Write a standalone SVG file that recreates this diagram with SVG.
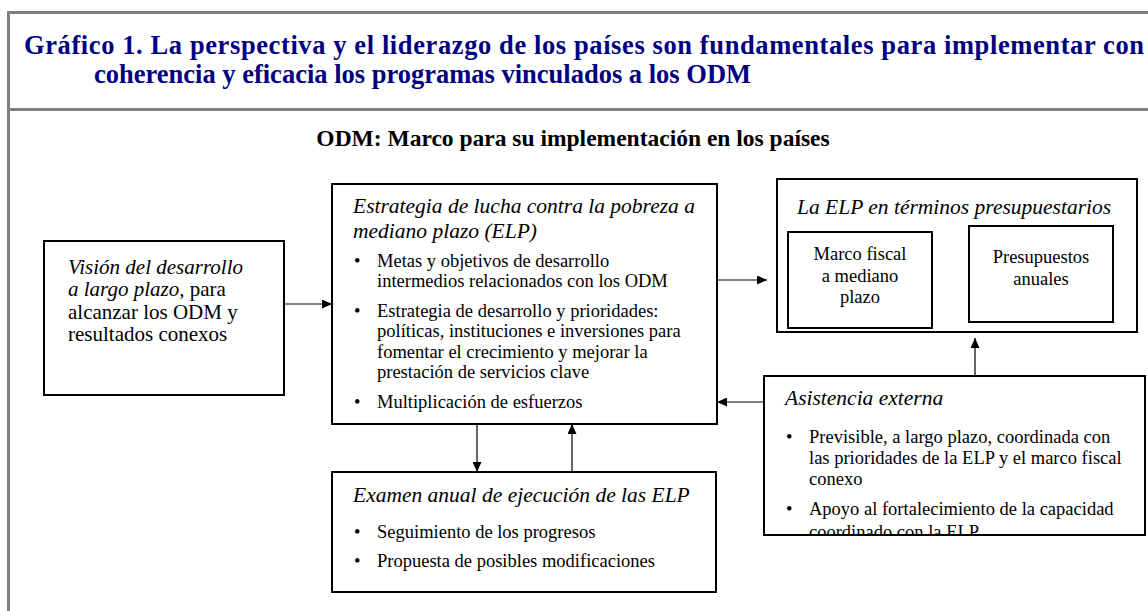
<svg xmlns="http://www.w3.org/2000/svg" width="1148" height="611" viewBox="0 0 1148 611">
<style>
.frame{stroke:#808080;stroke-width:3;fill:none}
.box{fill:#fff;stroke:#000;stroke-width:2}
.t{font-family:"Liberation Serif","Times New Roman",serif;fill:#000}
.h{font-size:26.5px;font-weight:bold;fill:#000080}
.sub{font-size:23.5px;font-weight:bold}
.it{font-size:21.5px;font-style:italic}
.b{font-size:18.5px}
.v{font-size:21px}
.c{text-anchor:middle}
.con{stroke:#000;stroke-width:1.2;fill:none;marker-end:url(#ah)}
</style>
<defs>
<marker id="ah" markerUnits="userSpaceOnUse" markerWidth="10" markerHeight="9" refX="10" refY="4.5" orient="auto">
<path d="M0,0 L10,4.5 L0,9 z" fill="#000"/>
</marker>
<clipPath id="clipA"><rect x="764" y="376" width="382" height="158"/></clipPath>
</defs>
<rect width="1148" height="611" fill="#fff"/>
<g id="frame">
<path class="frame" d="M8.5,611 V12.5 H1148 M8.5,109.5 H1148"/>
<text class="t h" x="24" y="54" textLength="1120" lengthAdjust="spacing">Gráfico 1. La perspectiva y el liderazgo de los países son fundamentales para implementar con</text>
<text class="t h" x="94" y="83">coherencia y eficacia los programas vinculados a los ODM</text>
<text class="t sub c" x="573" y="146">ODM: Marco para su implementación en los países</text>
</g>
<g id="connectors">
<line class="con" x1="284" y1="304" x2="332" y2="304"/>
<line class="con" x1="717" y1="280" x2="767" y2="280"/>
<line class="con" x1="932" y1="280" x2="969" y2="275"/>
<line class="con" x1="975" y1="376" x2="975" y2="338"/>
<line class="con" x1="764" y1="402" x2="717" y2="402"/>
<line class="con" x1="477" y1="424" x2="477" y2="472"/>
<line class="con" x1="572" y1="472" x2="572" y2="424"/>
</g>
<g id="vision">
<rect class="box" x="44" y="241" width="240" height="154"/>
<text class="t v" x="68" y="274" font-style="italic">Visión del desarrollo</text>
<text class="t v" x="68" y="296"><tspan font-style="italic">a largo plazo,</tspan> para</text>
<text class="t v" x="68" y="319">alcanzar los ODM y</text>
<text class="t v" x="68" y="341">resultados conexos</text>
</g>
<g id="estrategia">
<rect class="box" x="332" y="184" width="385" height="240"/>
<text class="t it" x="353" y="213">Estrategia de lucha contra la pobreza a</text>
<text class="t it" x="353" y="238">mediano plazo (ELP)</text>
<text class="t b" x="354" y="267">•</text>
<text class="t b" x="377" y="267">Metas y objetivos de desarrollo</text>
<text class="t b" x="377" y="287">intermedios relacionados con los ODM</text>
<text class="t b" x="354" y="317">•</text>
<text class="t b" x="377" y="317">Estrategia de desarrollo y prioridades:</text>
<text class="t b" x="377" y="337">políticas, instituciones e inversiones para</text>
<text class="t b" x="377" y="358">fomentar el crecimiento y mejorar la</text>
<text class="t b" x="377" y="378">prestación de servicios clave</text>
<text class="t b" x="354" y="408">•</text>
<text class="t b" x="377" y="408">Multiplicación de esfuerzos</text>
</g>
<g id="elp">
<rect class="box" x="777" y="179" width="360" height="153"/>
<text class="t it" x="797" y="214">La ELP en términos presupuestarios</text>
</g>
<g id="marco">
<rect class="box" x="788" y="232" width="144" height="96"/>
<text class="t b c" x="860" y="260">Marco fiscal</text>
<text class="t b c" x="860" y="282">a mediano</text>
<text class="t b c" x="860" y="303">plazo</text>
</g>
<g id="presupuestos">
<rect class="box" x="969" y="226" width="144" height="96"/>
<text class="t b c" x="1041" y="263">Presupuestos</text>
<text class="t b c" x="1041" y="285">anuales</text>
</g>
<g id="asistencia">
<rect class="box" x="764" y="376" width="381" height="159"/>
<g clip-path="url(#clipA)">
<text class="t it" x="785" y="405">Asistencia externa</text>
<text class="t b" x="786" y="443">•</text>
<text class="t b" x="809" y="443">Previsible, a largo plazo, coordinada con</text>
<text class="t b" x="809" y="464">las prioridades de la ELP y el marco fiscal</text>
<text class="t b" x="809" y="485">conexo</text>
<text class="t b" x="786" y="515">•</text>
<text class="t b" x="809" y="515">Apoyo al fortalecimiento de la capacidad</text>
<text class="t b" x="809" y="538">coordinado con la ELP</text>
</g>
</g>
<g id="examen">
<rect class="box" x="332" y="472" width="384" height="120"/>
<text class="t it" x="353" y="502">Examen anual de ejecución de las ELP</text>
<text class="t b" x="354" y="538">•</text>
<text class="t b" x="377" y="538">Seguimiento de los progresos</text>
<text class="t b" x="354" y="567">•</text>
<text class="t b" x="377" y="567">Propuesta de posibles modificaciones</text>
</g>
</svg>
